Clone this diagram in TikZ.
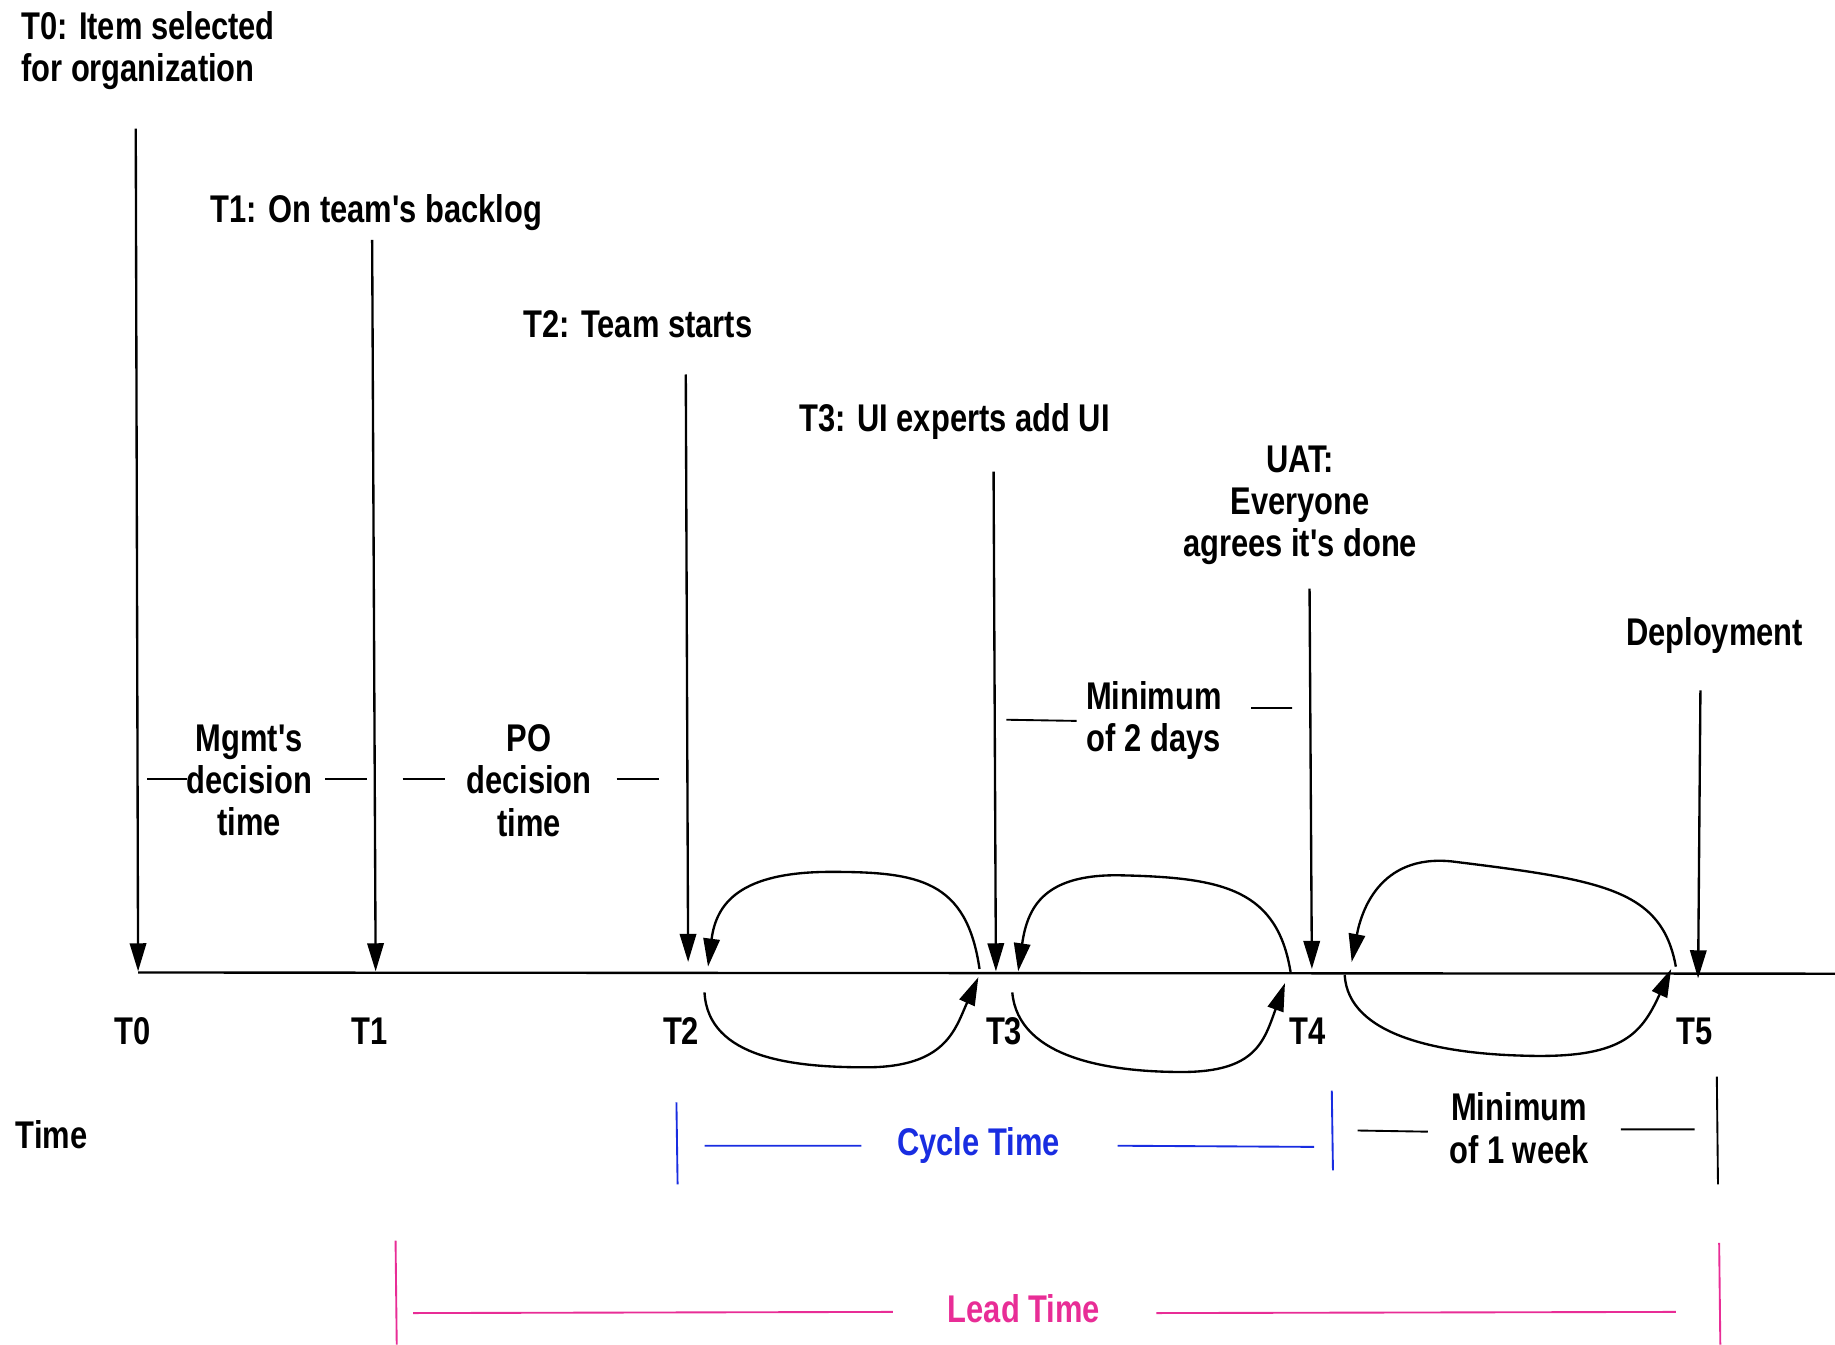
\documentclass[tikz,border=0pt]{standalone}
\usepackage{fontspec}
\setmainfont{Liberation Sans}[Ligatures=TeXOff,FakeStretch=0.8,BoldFont={* Bold},BoldFeatures={FakeStretch=0.8}]
\usetikzlibrary{arrows.meta}
\definecolor{cyc}{RGB}{25,45,225}
\definecolor{lead}{RGB}{232,45,150}
\begin{document}
\begin{tikzpicture}[x=1pt,y=-1pt,
  lbl/.style={font=\fontsize{33}{36}\selectfont\bfseries, inner sep=0pt, align=center},
  evarrow/.style={line width=2pt,-{Triangle[length=24pt,width=14pt]}},
  loopln/.style={line width=2pt,-{Triangle[length=24pt,width=14pt]}},
  tick/.style={line width=1.6pt},
  axis/.style={line width=2pt}]
\useasboundingbox (0,0) rectangle (1568,1149);
% top labels
\node[lbl,align=left,anchor=west] (l0) at (18,43) {T0: Item selected\\for organization};
\node[lbl,anchor=west] (l1) at (180,182) {T1: On team's backlog};
\node[lbl,anchor=west] (l2) at (447,277) {T2: Team starts};
\node[lbl,anchor=west] (l3) at (683,360) {T3: UI experts add UI};
\node[lbl] (l4) at (1111,432) {UAT:\\Everyone\\agrees it's done};
\node[lbl] (l5) at (1465,543) {Deployment};
% arrow endpoints
\coordinate (s0) at (116,110); \coordinate (e0) at (118,830);
\coordinate (s1) at (318,205); \coordinate (e1) at (321,830);
\coordinate (s2) at (586,320); \coordinate (e2) at (588,822);
\coordinate (s3) at (849,403); \coordinate (e3) at (851,830);
\coordinate (s4) at (1119,503); \coordinate (e4) at (1121,828);
\coordinate (s5) at (1453,590); \coordinate (e5) at (1451,836);
\foreach \i in {0,...,5} \draw[evarrow] (s\i) -- (e\i);
% timeline
\coordinate (ax0) at (118,831); \coordinate (ax1) at (1568,832);
\draw[axis] (ax0) -- (ax1);
% labels under axis
\node[lbl] (t0) at (113,881) {T0};
\node[lbl] (t1) at (316,881) {T1};
\node[lbl] (t2) at (582,881) {T2};
\node[lbl] (t3) at (858,881) {T3};
\node[lbl] (t4) at (1117,881) {T4};
\node[lbl] (t5) at (1448,881) {T5};
\node[lbl] (time) at (44,970) {Time};
% interval labels
\node[lbl] (mg) at (213,667) {Mgmt's\\decision\\time};
\draw[tick] (126,666) -- (160,666) (278,666) -- (314,666);
\node[lbl] (po) at (452,667) {PO\\decision\\time};
\draw[tick] (344,666) -- (380,666) (527,666) -- (563,666);
\node[lbl] (m2) at (986,616) {Minimum\\of 2 days};
\draw[tick] (860,615) -- (920,616) (1069,605) -- (1104,605);
% loops
\draw[loopln] (837,828) .. controls (826,752) and (785,745) .. (710,745)
  .. controls (632,745) and (612,772) .. (605,826);
\draw[loopln] (602,848) .. controls (605,905) and (680,912) .. (740,912)
  .. controls (808,912) and (816,880) .. (836,835);
\draw[loopln] (1103,832) .. controls (1092,760) and (1045,750) .. (960,748)
  .. controls (892,746) and (878,775) .. (870,830);
\draw[loopln] (865,848) .. controls (870,905) and (950,916) .. (1010,916)
  .. controls (1073,916) and (1080,890) .. (1098,840);
\draw[loopln] (1432,826) .. controls (1420,760) and (1370,752) .. (1240,736)
  .. controls (1178,730) and (1163,780) .. (1155,822);
\draw[loopln] (1149,833) .. controls (1152,885) and (1230,900) .. (1300,902)
  .. controls (1385,905) and (1402,885) .. (1428,828);
% cycle time
\draw[tick,cyc] (578,942) -- (579,1012) (1138,932) -- (1139,1000);
\draw[tick,cyc] (602,979) -- (736,979) (955,979) -- (1123,980);
\node[lbl,text=cyc] (ct) at (836,979) {Cycle Time};
% minimum 1 week
\node[lbl] (m1) at (1298,964) {Minimum\\of 1 week};
\draw[tick] (1467,920) -- (1468,1012);
\draw[tick] (1160,966) -- (1220,967) (1385,965) -- (1448,965);
% lead time
\draw[tick,lead] (338,1060) -- (339,1149) (1469,1062) -- (1470,1149);
\draw[tick,lead] (353,1122) -- (763,1121) (988,1122) -- (1432,1121);
\node[lbl,text=lead] (lt) at (875,1118) {Lead Time};
\end{tikzpicture}
\end{document}
